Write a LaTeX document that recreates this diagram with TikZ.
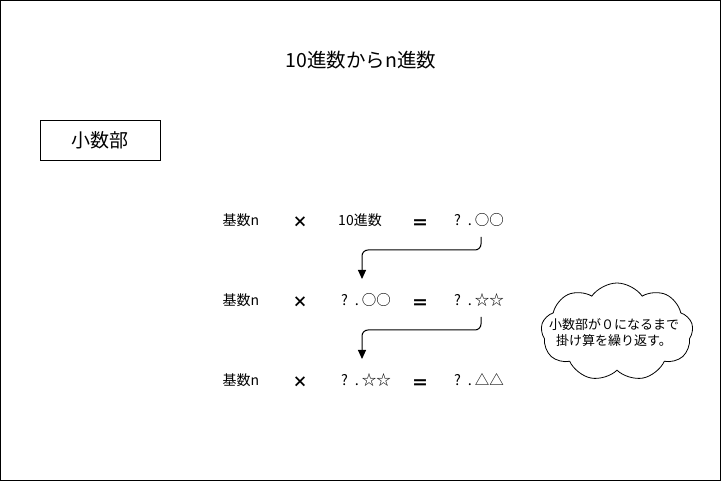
\documentclass[tikz,border=0pt]{standalone}
\usepackage{fontspec}
\setmainfont{Noto Sans CJK JP}
\usetikzlibrary{shapes.symbols,arrows.meta}
\newcommand{\qd}{?\hspace{7pt}.\hspace{3pt}}
\tikzset{
  lbl/.style={font=\fontsize{14}{16}\selectfont, inner sep=1pt},
  big/.style={font=\fontsize{14.5}{16}\selectfont, inner sep=1pt},
  eqs/.style={font=\bfseries\fontsize{17}{18}\selectfont, inner sep=1pt},
  mul/.style={font=\bfseries\fontsize{15}{16}\selectfont, inner sep=1pt},
  flow/.style={draw, line width=1pt, rounded corners=6pt, -{Triangle[length=9pt,width=8pt]}},
}
\begin{document}
\begin{tikzpicture}[x=1pt,y=-1pt]
\draw[line width=1pt, fill=white] (0.5,0.5) rectangle (720.5,480.5);
\useasboundingbox (0,0) rectangle (721,481);
\node[font=\fontsize{19.5}{22}\selectfont] (title) at (361,60) {10進数からn進数};
\node[draw, minimum width=120, minimum height=40, font=\fontsize{19}{22}\selectfont, line width=0.8pt] (sub) at (100,140) {小数部};
% row 1
\node[lbl] (b1) at (241,220) {基数n};
\node[mul] (x1) at (300,222) {×};
\node[lbl] (m1) at (360,220) {10進数};
\node[eqs] (e1) at (420,224.5) {＝};
\node[big] (r1) at (479,220) {\qd○○};
% row 2
\node[lbl] (b2) at (241,300) {基数n};
\node[mul] (x2) at (300,302) {×};
\node[big] (m2) at (366,300) {\qd○○};
\node[eqs] (e2) at (420,304.5) {＝};
\node[big] (r2) at (479,300) {\qd☆☆};
% row 3
\node[lbl] (b3) at (241,380) {基数n};
\node[mul] (x3) at (300,382) {×};
\node[big] (m3) at (366,380) {\qd☆☆};
\node[eqs] (e3) at (420,384.5) {＝};
\node[big] (r3) at (479,380) {\qd△△};
% arrows
\coordinate (t1) at (362,279);
\coordinate (t2) at (362,359);
\draw[flow] (481,237) -- (481,250) -- (362,250) -- (t1);
\draw[flow] (481,317) -- (481,330) -- (362,330) -- (t2);
% cloud
\node[cloud, draw, cloud puffs=9, cloud puff arc=110, aspect=1.6, minimum width=152, minimum height=98, line width=0.8pt, inner sep=0pt] (cl) at (617,332) {};
\node[font=\fontsize{13}{16}\selectfont, align=center, inner sep=0pt] (ct) at (614,333) {小数部が０になるまで\\掛け算を繰り返す。};
\end{tikzpicture}
\end{document}
